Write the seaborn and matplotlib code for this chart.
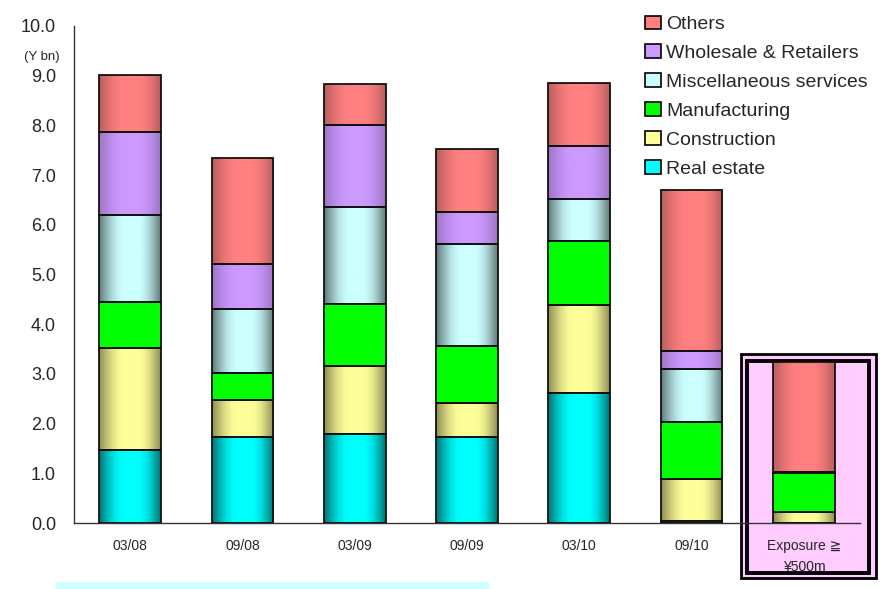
import numpy as np
import pandas as pd
import matplotlib
matplotlib.use("Agg")
import matplotlib.pyplot as plt
from matplotlib.patches import Rectangle, Patch
from matplotlib.colors import to_rgb
import seaborn as sns

# Outstanding exposure by industry (Y bn)
periods = ["03/08", "09/08", "03/09", "09/09", "03/10", "09/10", "Exposure ≧\n¥500m"]
real_estate = [1.47, 1.73, 1.79, 1.73, 2.62, 0.04, 0.00]
construction = [2.05, 0.75, 1.36, 0.68, 1.77, 0.84, 0.23]
manufacturing = [0.93, 0.53, 1.25, 1.16, 1.28, 1.15, 0.77]
misc_services = [1.75, 1.30, 1.95, 2.05, 0.85, 1.07, 0.00]
wholesale_retail = [1.66, 0.91, 1.65, 0.64, 1.06, 0.36, 0.02]
others = [1.16, 2.13, 0.83, 1.27, 1.27, 3.24, 2.21]

# (label, values, base colour, brightness at the bar edges)
series = [
    ("Real estate", real_estate, "#00FFFF", 0.45),
    ("Construction", construction, "#FFFF99", 0.55),
    ("Manufacturing", manufacturing, "#00FF00", 1.00),
    ("Miscellaneous services", misc_services, "#CCFFFF", 0.47),
    ("Wholesale & Retailers", wholesale_retail, "#CC99FF", 0.76),
    ("Others", others, "#FF8080", 0.72),
]
y_ticks = [0.0, 1.0, 2.0, 3.0, 4.0, 5.0, 6.0, 7.0, 8.0, 9.0, 10.0]

sns.set_style("white")
plt.rcParams["font.family"] = ["Liberation Sans", "DejaVu Sans"]

fig = plt.figure(figsize=(8.89, 5.89), dpi=100)
ax = fig.add_axes([74 / 889, 1 - 523 / 589, 786 / 889, 497 / 589])
ax.patch.set_alpha(0)

# pink panel around the large-exposure bar
fig.patches.append(Rectangle((741 / 889, 1 - 578 / 589), 135 / 889, 224 / 589,
                             transform=fig.transFigure, facecolor="#FFCCFF",
                             edgecolor="black", linewidth=2.0, zorder=-2))
fig.patches.append(Rectangle((747 / 889, 1 - 573 / 589), 122 / 889, 212 / 589,
                             transform=fig.transFigure, facecolor="none",
                             edgecolor="black", linewidth=2.8, zorder=-1))
# light strip at the bottom
fig.patches.append(Rectangle((56 / 889, 0), 433 / 889, 7 / 589,
                             transform=fig.transFigure, facecolor="#CCFFFF",
                             edgecolor="none", zorder=-1))

bar_width = 0.55
bottom = np.zeros(len(periods))
layers = []
for name, vals, col, edge in series:
    df = pd.DataFrame({"period": periods, "value": vals})
    n_before = len(ax.patches)
    sns.barplot(data=df, x="period", y="value", color=col, width=bar_width,
                bottom=bottom.copy(), edgecolor="#111111", linewidth=1.3,
                saturation=1, ax=ax, zorder=3)
    layers.append((ax.patches[n_before:], col, edge))
    bottom += np.array(vals)

# cylinder-like horizontal shading on each segment
t = np.linspace(0, 1, 240)
shape = np.interp(t, [0.0, 0.42, 0.62, 1.0], [0.0, 1.0, 1.0, 0.0])
shape = np.sin(shape * np.pi / 2)
for patches, col, edge in layers:
    base = np.array(to_rgb(col))
    factor = edge + (1 - edge) * shape
    grad = (base[None, :] * factor[:, None])[None, :, :]
    for p in patches:
        x0, y0 = p.get_x(), p.get_y()
        w, h = p.get_width(), p.get_height()
        if h <= 0:
            continue
        im = ax.imshow(grad, extent=(x0, x0 + w, y0, y0 + h), aspect="auto",
                       interpolation="bilinear", zorder=2.5)
        im.set_clip_path(p)
        p.set_facecolor("none")

ax.set_xlim(-0.5, len(periods) - 0.5)
ax.set_ylim(0, 10)
ax.set_yticks(y_ticks)
ax.set_yticklabels([f"{v:.1f}" for v in y_ticks], fontsize=13)
ax.set_xlabel("")
ax.set_ylabel("")
ax.set_xticks(range(len(periods)))
ax.set_xticklabels(periods, fontsize=10, linespacing=1.6)
ax.set_xticks(np.arange(0.5, len(periods) + 0.5), minor=True)
ax.tick_params(axis="x", which="major", length=0, pad=11.5)
ax.tick_params(axis="x", which="minor", direction="in", length=5, color="#333333")
ax.tick_params(axis="y", direction="in", length=6, color="#333333", pad=13)

sns.despine(ax=ax, top=True, right=True)
for s in ("left", "bottom"):
    ax.spines[s].set_color("#333333")
    ax.spines[s].set_linewidth(1.0)

fig.text(42 / 889, 1 - 57 / 589, "(Y bn)", fontsize=9.5, ha="center", va="center")

handles = [Patch(facecolor=col, edgecolor="black", linewidth=1.2, label=name)
           for name, vals, col, edge in series][::-1]
ax.legend(handles=handles, loc="upper left",
          bbox_to_anchor=(631 / 889, 1 - 2 / 589), bbox_transform=fig.transFigure,
          frameon=False, fontsize=14, handlelength=0.85, handleheight=0.7,
          handletextpad=0.25, labelspacing=0.58, borderpad=0.2)

fig.savefig("out.png", dpi=100)
